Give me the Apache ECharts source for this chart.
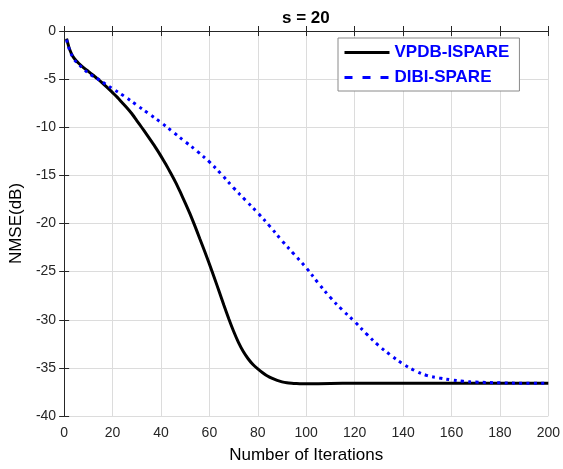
<!DOCTYPE html>
<html>
<head>
<meta charset="utf-8">
<script src="https://cdn.jsdelivr.net/npm/echarts@6/dist/echarts.min.js"></script>
<style>html,body{margin:0;padding:0;background:#fff;}#c{width:563px;height:469px;}</style>
</head>
<body>
<div id="c"></div>
<script>
const titleText = 's = 20';
const xName = 'Number of Iterations';
const yName = 'NMSE(dB)';
const seriesNames = ['VPDB-ISPARE', 'DIBI-SPARE'];

const vpdbIters = [1,2,3,4,5,6,8,10,12,14,16,18,20,22,24,26,28,30,32,34,36,38,40,42,44,46,48,50,52,54,56,58,60,62,64,66,68,70,72,74,76,78,80,82,84,86,88,90,92,94,96,98,100,110,120,140,160,180,200];
const vpdbNmse = [-0.8,-1.7,-2.35,-2.8,-3.1,-3.35,-3.8,-4.2,-4.6,-5.0,-5.45,-5.9,-6.4,-6.9,-7.45,-8.0,-8.6,-9.3,-10.0,-10.72,-11.45,-12.2,-13.0,-13.85,-14.75,-15.7,-16.75,-17.85,-19.0,-20.25,-21.55,-22.85,-24.2,-25.6,-27.05,-28.5,-29.9,-31.2,-32.35,-33.3,-34.05,-34.65,-35.1,-35.5,-35.85,-36.1,-36.3,-36.45,-36.55,-36.6,-36.63,-36.65,-36.65,-36.62,-36.6,-36.6,-36.6,-36.6,-36.6];

const dibiIters = [1,2,4,6,8,11,14,17,20,25,30,35,40,45,50,55,60,65,70,75,80,85,90,95,100,105,110,115,120,125,130,135,140,145,150,155,160,165,170,180,190,200];
const dibiNmse = [-0.9,-1.8,-2.9,-3.45,-3.95,-4.55,-5.0,-5.5,-6.0,-6.8,-7.7,-8.6,-9.5,-10.5,-11.5,-12.5,-13.6,-14.9,-16.3,-17.6,-18.9,-20.3,-21.8,-23.2,-24.6,-26.2,-27.7,-29.0,-30.2,-31.5,-32.7,-33.7,-34.6,-35.3,-35.8,-36.05,-36.25,-36.4,-36.48,-36.55,-36.6,-36.6];

const FONT = "'Liberation Sans', Arial, Helvetica, sans-serif";
const AX = '#262626';

const pair = (xs, ys) => xs.map((x, i) => [x, ys[i]]);

const chart = echarts.init(document.getElementById('c'), null, {renderer: 'canvas'});
const xCommon = {type: 'value', min: 0, max: 200, interval: 20};
const yCommon = {type: 'value', min: -40, max: 0, interval: 5};
chart.setOption({
  animation: false,
  backgroundColor: '#fff',
  title: {
    text: titleText, left: 282, top: 10, padding: 0,
    textStyle: {fontFamily: FONT, fontSize: 17, fontWeight: 'bold', color: '#000'}
  },
  grid: {left: 62, right: 11, top: 31, bottom: 50, containLabel: false},
  legend: {
    left: 338, top: 38, orient: 'vertical',
    backgroundColor: '#fff', borderColor: '#8a8a8a', borderWidth: 1,
    padding: [6, 10, 5, 5], itemWidth: 45, itemHeight: 14, itemGap: 8,
    textStyle: {fontFamily: FONT, fontSize: 17, fontWeight: 'bold', color: '#0000ff'},
    data: [
      {name: seriesNames[0], itemStyle: {opacity: 0}, lineStyle: {color: '#000', width: 3, type: 'solid'}},
      {name: seriesNames[1], itemStyle: {opacity: 0}, lineStyle: {color: '#0000ff', width: 3, type: [8, 10]}}
    ]
  },
  xAxis: [
    Object.assign({}, xCommon, {
      position: 'bottom', name: xName, nameLocation: 'middle', nameGap: 31,
      nameTextStyle: {fontFamily: FONT, fontSize: 17, color: '#000'},
      axisLine: {show: true, lineStyle: {color: AX, width: 1}},
      axisTick: {show: true, inside: true, length: 5, lineStyle: {color: AX}},
      axisLabel: {fontFamily: FONT, fontSize: 14, color: AX, margin: 10},
      splitLine: {show: true, lineStyle: {color: '#dcdcdc', width: 1}}
    }),
    Object.assign({}, xCommon, {
      position: 'top',
      axisLine: {show: true, lineStyle: {color: AX, width: 1}},
      axisTick: {show: true, inside: true, length: 5, lineStyle: {color: AX}},
      axisLabel: {show: false}, splitLine: {show: false}
    })
  ],
  yAxis: [
    Object.assign({}, yCommon, {
      position: 'left', name: yName, nameLocation: 'middle', nameGap: 34,
      nameTextStyle: {fontFamily: FONT, fontSize: 17, color: '#000'},
      axisLine: {show: true, lineStyle: {color: AX, width: 1}},
      axisTick: {show: true, inside: true, length: 5, lineStyle: {color: AX}},
      axisLabel: {fontFamily: FONT, fontSize: 14, color: AX, margin: 8},
      splitLine: {show: true, lineStyle: {color: '#dcdcdc', width: 1}}
    }),
    Object.assign({}, yCommon, {
      position: 'right',
      axisLine: {show: true, lineStyle: {color: AX, width: 1}},
      axisTick: {show: true, inside: true, length: 5, lineStyle: {color: AX}},
      axisLabel: {show: false}, splitLine: {show: false}
    })
  ],
  series: [
    {
      name: seriesNames[0], type: 'line', xAxisIndex: 0, yAxisIndex: 0,
      data: pair(vpdbIters, vpdbNmse), smooth: 0.2, showSymbol: false, symbol: 'none',
      lineStyle: {color: '#000', width: 3}, itemStyle: {color: '#000'}, z: 3
    },
    {
      name: seriesNames[1], type: 'line', xAxisIndex: 0, yAxisIndex: 0,
      data: pair(dibiIters, dibiNmse), smooth: 0.4, showSymbol: false, symbol: 'none',
      lineStyle: {color: '#0000ff', width: 3, type: [3, 4.3]}, itemStyle: {color: '#0000ff'}, z: 4
    }
  ]
});
</script>
</body>
</html>
